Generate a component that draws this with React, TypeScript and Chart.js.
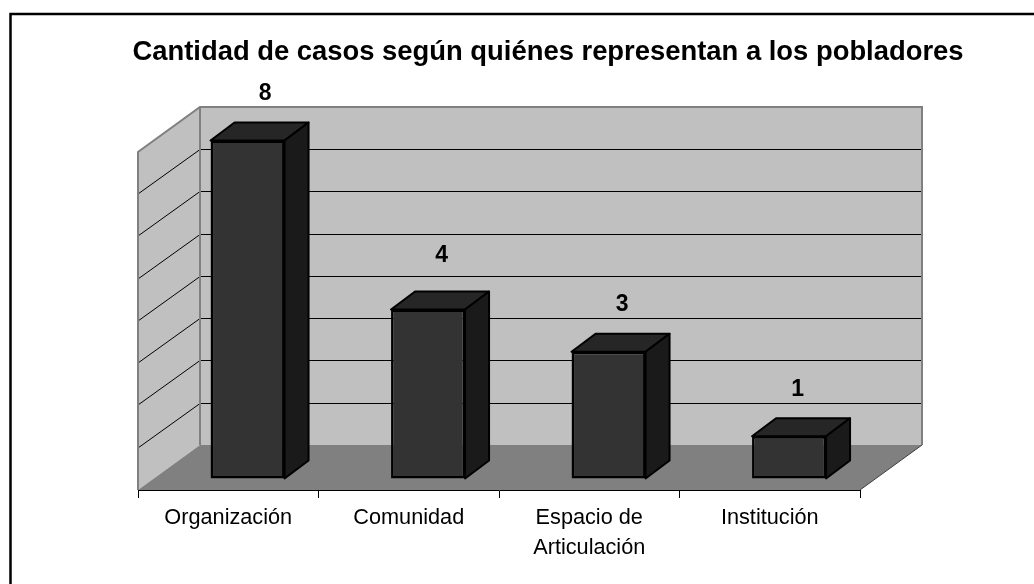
import React, { useEffect, useRef } from "react";
import { Chart, registerables } from "chart.js";

Chart.register(...registerables);

const FONT = "'Liberation Sans', Arial, sans-serif";
const chartTitle = "Cantidad de casos según quiénes representan a los pobladores";
const categories: (string | string[])[] = ["Organización", "Comunidad", ["Espacio de", "Articulación"], "Institución"];
const casos = [8, 4, 3, 1];
const labelShiftX = [17.5, 13.5, 13.5, 8.5];
const labelLift = [46.5, 53.5, 47, 47];

const WALL_DX = 62;
const WALL_DY = 45;
const BAR_DX = 19.3;
const BAR_DY = 11.5;
const BOX_DX = 24;
const BOX_DY = 18;

const scene3d = {
  id: "scene3d",
  beforeDraw(chart: any) {
    const { ctx, chartArea: a, scales } = chart;
    const y = scales.y;
    ctx.save();
    ctx.fillStyle = "#ffffff";
    ctx.fillRect(0, 0, chart.width, chart.height);
    // outer frame
    ctx.strokeStyle = "#000000";
    ctx.lineWidth = 2.5;
    ctx.strokeRect(10.5, 14, chart.width + 20, chart.height + 20);
    // back wall
    ctx.fillStyle = "#c0c0c0";
    ctx.fillRect(a.left + WALL_DX, a.top - WALL_DY, a.right - a.left, a.bottom - a.top);
    // left wall
    ctx.beginPath();
    ctx.moveTo(a.left, a.top);
    ctx.lineTo(a.left + WALL_DX, a.top - WALL_DY);
    ctx.lineTo(a.left + WALL_DX, a.bottom - WALL_DY);
    ctx.lineTo(a.left, a.bottom);
    ctx.closePath();
    ctx.fill();
    // floor
    ctx.fillStyle = "#808080";
    ctx.beginPath();
    ctx.moveTo(a.left, a.bottom);
    ctx.lineTo(a.left + WALL_DX, a.bottom - WALL_DY);
    ctx.lineTo(a.right + WALL_DX, a.bottom - WALL_DY);
    ctx.lineTo(a.right, a.bottom);
    ctx.closePath();
    ctx.fill();
    // gridlines
    ctx.strokeStyle = "#000000";
    ctx.lineWidth = 1;
    ctx.beginPath();
    y.ticks.forEach((t: any) => {
      if (t.value <= y.min || t.value >= y.max) return;
      const p = Math.round(y.getPixelForValue(t.value));
      ctx.moveTo(a.left, p);
      ctx.lineTo(a.left + WALL_DX, p - WALL_DY + 0.5);
      ctx.lineTo(a.right + WALL_DX, p - WALL_DY + 0.5);
    });
    ctx.stroke();
    // wall outlines
    ctx.strokeStyle = "#808080";
    ctx.lineWidth = 2;
    ctx.beginPath();
    ctx.moveTo(a.left, a.bottom);
    ctx.lineTo(a.left, a.top);
    ctx.lineTo(a.left + WALL_DX, a.top - WALL_DY);
    ctx.lineTo(a.right + WALL_DX, a.top - WALL_DY);
    ctx.lineTo(a.right + WALL_DX, a.bottom - WALL_DY);
    ctx.moveTo(a.left + WALL_DX, a.top - WALL_DY);
    ctx.lineTo(a.left + WALL_DX, a.bottom - WALL_DY);
    ctx.stroke();
    ctx.strokeStyle = "#404040";
    ctx.lineWidth = 1;
    ctx.beginPath();
    ctx.moveTo(a.right, a.bottom);
    ctx.lineTo(a.right + WALL_DX, a.bottom - WALL_DY);
    ctx.stroke();
    ctx.restore();
  },
  beforeDatasetDraw(chart: any, args: any) {
    const { ctx } = chart;
    ctx.save();
    ctx.translate(BAR_DX, -BAR_DY);
    const bars = chart.getDatasetMeta(args.index).data;
    ctx.strokeStyle = "#000000";
    ctx.lineWidth = 2;
    ctx.lineJoin = "round";
    bars.forEach((b: any) => {
      const { x, y, base, width } = b.getProps(["x", "y", "base", "width"], true);
      const l = x - width / 2;
      const r = x + width / 2;
      ctx.fillStyle = "#262626";
      ctx.beginPath();
      ctx.moveTo(l, y);
      ctx.lineTo(l + BOX_DX, y - BOX_DY);
      ctx.lineTo(r + BOX_DX, y - BOX_DY);
      ctx.lineTo(r, y);
      ctx.closePath();
      ctx.fill();
      ctx.stroke();
      ctx.fillStyle = "#1a1a1a";
      ctx.beginPath();
      ctx.moveTo(r, y);
      ctx.lineTo(r + BOX_DX, y - BOX_DY);
      ctx.lineTo(r + BOX_DX, base - BOX_DY);
      ctx.lineTo(r, base);
      ctx.closePath();
      ctx.fill();
      ctx.stroke();
    });
  },
  afterDatasetDraw(chart: any) {
    chart.ctx.restore();
  },
  afterDatasetsDraw(chart: any) {
    const { ctx } = chart;
    const meta = chart.getDatasetMeta(0);
    ctx.save();
    ctx.font = `bold 23px ${FONT}`;
    ctx.fillStyle = "#000000";
    ctx.textAlign = "center";
    ctx.textBaseline = "middle";
    meta.data.forEach((b: any, i: number) => {
      ctx.fillText(String(casos[i]), b.x + BAR_DX + labelShiftX[i], b.y - BAR_DY - labelLift[i]);
    });
    ctx.restore();
  },
};

export default function App() {
  const ref = useRef<HTMLCanvasElement>(null);
  useEffect(() => {
    const chart = new Chart(ref.current as HTMLCanvasElement, {
      type: "bar",
      data: {
        labels: categories,
        datasets: [
          {
            label: "Casos",
            data: casos,
            yAxisID: "y",
            backgroundColor: "#333333",
            borderColor: "#000000",
            borderWidth: 2.5,
            borderSkipped: false,
            barPercentage: 0.41,
            categoryPercentage: 1,
            clip: false,
          } as any,
        ],
      },
      options: {
        responsive: false,
        animation: false,
        layout: { padding: { left: 62, right: 0, top: 36, bottom: 0 } },
        plugins: {
          legend: { display: false },
          tooltip: { enabled: false },
          title: {
            display: true,
            text: chartTitle,
            color: "#000000",
            font: { family: FONT, size: 27.4, weight: "bold", lineHeight: 1.2 },
            padding: { top: 0, bottom: 83.1 },
          },
        },
        scales: {
          x: {
            type: "category",
            offset: true,
            afterFit: (s: any) => {
              s.height = 94;
            },
            grid: {
              offset: true,
              drawOnChartArea: false,
              drawTicks: true,
              tickLength: 8,
              color: "#000000",
            },
            border: { display: true, color: "#000000", width: 1 },
            ticks: {
              color: "#000000",
              font: { family: FONT, size: 21.7, lineHeight: 1.38 },
              padding: 5,
              maxRotation: 0,
              minRotation: 0,
            },
          },
          y: {
            type: "linear",
            min: 0,
            max: 8,
            position: "left",
            afterFit: (s: any) => {
              s.width = 76;
            },
            grid: { display: false },
            border: { display: false },
            ticks: { display: false, stepSize: 1 },
          },
          y2: {
            type: "linear",
            min: 0,
            max: 1,
            position: "right",
            afterFit: (s: any) => {
              s.width = 174;
            },
            grid: { display: false },
            border: { display: false },
            ticks: { display: false },
          },
        },
      },
      plugins: [scene3d],
    } as any);
    return () => chart.destroy();
  }, []);
  return (
    <canvas
      ref={ref}
      width={1034}
      height={584}
      style={{ position: "fixed", left: 0, top: 0, display: "block" }}
    />
  );
}
